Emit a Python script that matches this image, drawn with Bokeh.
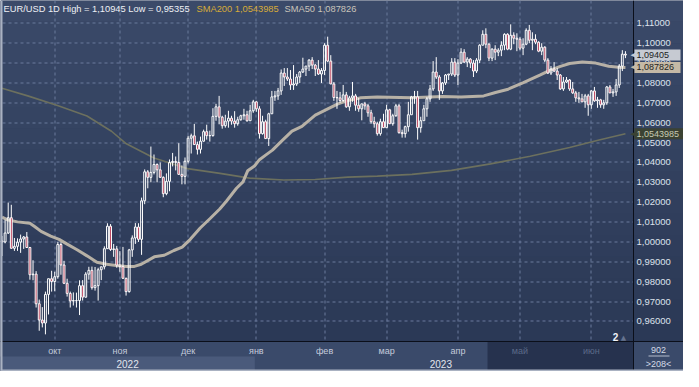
import math
import pandas as pd
from bokeh.plotting import figure
from bokeh.models import (ColumnDataSource, LinearAxis, FixedTicker, CustomJSTickFormatter,
                          Label, BoxAnnotation, Range1d, Grid)
from bokeh.embed import file_html
from bokeh.resources import INLINE

# ---------------- data ----------------
dates = pd.bdate_range("2022-09-08", "2023-06-16")

open_ = [
    1.0005, 1.0000, 1.0045, 1.0122, 0.9968, 0.9978, 0.9999, 1.0015, 1.0025, 0.9972, 0.9835, 0.9838, 0.9689, 0.9607, 0.9592, 0.9736, 0.9815,
    0.9801, 0.9825, 0.9987, 0.9884, 0.9792, 0.9741, 0.9703, 0.9705, 0.9705, 0.9780, 0.9722, 0.9838, 0.9857, 0.9770, 0.9780, 0.9860, 0.9875, 0.9966, 1.0079, 0.9962, 0.9965,
    0.9883, 0.9876, 0.9817, 0.9750, 0.9960, 1.0020, 1.0075, 1.0013, 1.0207, 1.0353, 1.0325, 1.0350, 1.0390, 1.0363, 1.0325, 1.0243, 1.0305, 1.0400, 1.0405, 1.0400, 1.0340, 1.0330,
    1.0406, 1.0522, 1.0534, 1.0490, 1.0466, 1.0507, 1.0555, 1.0535, 1.0535, 1.0632, 1.0680, 1.0628, 1.0585, 1.0608, 1.0623, 1.0608, 1.0595, 1.0615, 1.0635, 1.0640, 1.0610, 1.0660,
    1.0705, 1.0670, 1.0545, 1.0605, 1.0520, 1.0645, 1.0730, 1.0735, 1.0760, 1.0850, 1.0830, 1.0820, 1.0790, 1.0795, 1.0830, 1.0855, 1.0870, 1.0885, 1.0915, 1.0890, 1.0870, 1.0845,
    1.0863, 1.0990, 1.0910, 1.0795, 1.0727, 1.0725, 1.0712, 1.0740, 1.0680, 1.0725, 1.0735, 1.0688, 1.0670, 1.0695, 1.0685, 1.0650, 1.0605, 1.0595, 1.0545, 1.0605,
    1.0575, 1.0665, 1.0595, 1.0635, 1.0685, 1.0550, 1.0545, 1.0580, 1.0640, 1.0730, 1.0730, 1.0575, 1.0610, 1.0670, 1.0720, 1.0770, 1.0855, 1.0830, 1.0760, 1.0800, 1.0840, 1.0845, 1.0905,
    1.0840, 1.0900, 1.0955, 1.0905, 1.0920, 1.0900, 1.0860, 1.0915, 1.0990, 1.1045, 1.0995, 1.0925, 1.0970, 1.0955, 1.0965, 1.0990, 1.1045, 1.0970, 1.1040, 1.1025,
    1.1020, 1.0975, 1.0995, 1.1065, 1.1015, 1.1020, 1.1005, 1.0960, 1.0980, 1.0915, 1.0850, 1.0870, 1.0860, 1.0840, 1.0770, 1.0805, 1.0815, 1.0770, 1.0750, 1.0725, 1.0720, 1.0705, 1.0735,
    1.0690, 1.0760, 1.0710, 1.0715, 1.0690, 1.0700, 1.0780, 1.0750, 1.0755, 1.0790, 1.0885, 1.0945,
]
high = [
    1.0030, 1.0112, 1.0198, 1.0187, 1.0020, 1.0018, 1.0037, 1.0030, 1.0050, 0.9975, 0.9908, 0.9853, 0.9710, 0.9672, 0.9750, 0.9815, 0.9855,
    0.9850, 0.9999, 0.9998, 0.9905, 0.9815, 0.9750, 0.9746, 0.9745, 0.9807, 0.9808, 0.9848, 0.9875, 0.9876, 0.9874, 0.9870, 0.9875, 0.9978, 1.0094, 1.0090, 0.9990, 0.9980,
    0.9954, 0.9975, 0.9820, 0.9965, 1.0033, 1.0095, 1.0094, 1.0223, 1.0365, 1.0362, 1.0480, 1.0440, 1.0395, 1.0400, 1.0330, 1.0345, 1.0415, 1.0448, 1.0430, 1.0497, 1.0385, 1.0425,
    1.0534, 1.0545, 1.0594, 1.0505, 1.0530, 1.0565, 1.0590, 1.0560, 1.0673, 1.0695, 1.0735, 1.0635, 1.0640, 1.0660, 1.0635, 1.0658, 1.0630, 1.0640, 1.0670, 1.0660, 1.0690, 1.0715,
    1.0710, 1.0683, 1.0635, 1.0615, 1.0650, 1.0760, 1.0760, 1.0775, 1.0868, 1.0875, 1.0875, 1.0865, 1.0890, 1.0845, 1.0860, 1.0927, 1.0885, 1.0920, 1.0930, 1.0895, 1.0915, 1.0875,
    1.1000, 1.1033, 1.0940, 1.0805, 1.0760, 1.0755, 1.0790, 1.0755, 1.0735, 1.0805, 1.0745, 1.0725, 1.0695, 1.0705, 1.0695, 1.0665, 1.0630, 1.0605, 1.0620, 1.0645,
    1.0690, 1.0670, 1.0645, 1.0695, 1.0695, 1.0565, 1.0585, 1.0705, 1.0735, 1.0760, 1.0760, 1.0630, 1.0690, 1.0730, 1.0790, 1.0910, 1.0930, 1.0840, 1.0805, 1.0845, 1.0845, 1.0925, 1.0925,
    1.0920, 1.0975, 1.0970, 1.0930, 1.0925, 1.0915, 1.0925, 1.0995, 1.1065, 1.1075, 1.1000, 1.0975, 1.0990, 1.0975, 1.1010, 1.1050, 1.1050, 1.1095, 1.1055, 1.1050,
    1.1030, 1.1025, 1.1075, 1.1092, 1.1055, 1.1045, 1.1010, 1.1000, 1.0985, 1.0925, 1.0885, 1.0905, 1.0875, 1.0845, 1.0830, 1.0830, 1.0820, 1.0805, 1.0760, 1.0755, 1.0745, 1.0745, 1.0745,
    1.0765, 1.0780, 1.0730, 1.0720, 1.0715, 1.0785, 1.0790, 1.0770, 1.0820, 1.0895, 1.0965, 1.0960,
]
low = [
    0.9929, 0.9993, 1.0040, 0.9966, 0.9955, 0.9955, 0.9945, 0.9965, 0.9970, 0.9810, 0.9807, 0.9670, 0.9553, 0.9570, 0.9535, 0.9635, 0.9750,
    0.9752, 0.9815, 0.9835, 0.9788, 0.9725, 0.9670, 0.9680, 0.9670, 0.9632, 0.9705, 0.9720, 0.9810, 0.9760, 0.9755, 0.9705, 0.9808, 0.9862, 0.9965, 0.9955, 0.9925, 0.9870,
    0.9850, 0.9815, 0.9730, 0.9745, 0.9925, 0.9990, 1.0000, 0.9935, 1.0190, 1.0270, 1.0300, 1.0340, 1.0300, 1.0325, 1.0225, 1.0235, 1.0255, 1.0380, 1.0360, 1.0340, 1.0290, 1.0290,
    1.0395, 1.0445, 1.0490, 1.0440, 1.0445, 1.0505, 1.0515, 1.0505, 1.0530, 1.0610, 1.0592, 1.0570, 1.0575, 1.0575, 1.0590, 1.0575, 1.0585, 1.0610, 1.0615, 1.0605, 1.0610, 1.0650,
    1.0655, 1.0520, 1.0540, 1.0520, 1.0483, 1.0645, 1.0710, 1.0715, 1.0740, 1.0785, 1.0810, 1.0765, 1.0765, 1.0785, 1.0800, 1.0850, 1.0835, 1.0860, 1.0870, 1.0835, 1.0840, 1.0800,
    1.0840, 1.0905, 1.0795, 1.0710, 1.0670, 1.0700, 1.0705, 1.0675, 1.0660, 1.0705, 1.0660, 1.0655, 1.0612, 1.0665, 1.0630, 1.0595, 1.0575, 1.0535, 1.0535, 1.0580,
    1.0575, 1.0595, 1.0585, 1.0630, 1.0545, 1.0525, 1.0525, 1.0555, 1.0640, 1.0695, 1.0515, 1.0550, 1.0610, 1.0630, 1.0705, 1.0760, 1.0820, 1.0715, 1.0745, 1.0790, 1.0815, 1.0835, 1.0830,
    1.0790, 1.0895, 1.0900, 1.0880, 1.0875, 1.0830, 1.0850, 1.0900, 1.0990, 1.0975, 1.0910, 1.0910, 1.0915, 1.0935, 1.0935, 1.0965, 1.0965, 1.0965, 1.0995, 1.0960,
    1.0965, 1.0940, 1.0990, 1.1000, 1.0965, 1.0995, 1.0955, 1.0940, 1.0905, 1.0845, 1.0840, 1.0855, 1.0815, 1.0765, 1.0760, 1.0800, 1.0760, 1.0745, 1.0705, 1.0700, 1.0705, 1.0675, 1.0635,
    1.0670, 1.0705, 1.0675, 1.0675, 1.0670, 1.0690, 1.0750, 1.0730, 1.0735, 1.0775, 1.0860, 1.0925,
]
close = [
    1.0000, 1.0045, 1.0122, 0.9968, 0.9978, 0.9999, 1.0015, 1.0025, 0.9972, 0.9835, 0.9838, 0.9689, 0.9607, 0.9592, 0.9736, 0.9815, 0.9801,
    0.9825, 0.9987, 0.9884, 0.9792, 0.9741, 0.9703, 0.9705, 0.9705, 0.9780, 0.9722, 0.9838, 0.9857, 0.9770, 0.9780, 0.9860, 0.9875, 0.9966, 1.0079, 0.9962, 0.9965, 0.9883,
    0.9876, 0.9817, 0.9750, 0.9960, 1.0020, 1.0075, 1.0013, 1.0207, 1.0353, 1.0325, 1.0350, 1.0390, 1.0363, 1.0325, 1.0243, 1.0305, 1.0400, 1.0405, 1.0400, 1.0340, 1.0330, 1.0406,
    1.0522, 1.0534, 1.0490, 1.0466, 1.0507, 1.0555, 1.0535, 1.0535, 1.0632, 1.0680, 1.0628, 1.0585, 1.0608, 1.0623, 1.0608, 1.0595, 1.0615, 1.0635, 1.0640, 1.0610, 1.0660, 1.0705,
    1.0670, 1.0545, 1.0605, 1.0520, 1.0645, 1.0730, 1.0735, 1.0760, 1.0850, 1.0830, 1.0820, 1.0790, 1.0795, 1.0830, 1.0855, 1.0870, 1.0885, 1.0915, 1.0890, 1.0870, 1.0845, 1.0863,
    1.0990, 1.0910, 1.0795, 1.0727, 1.0725, 1.0712, 1.0740, 1.0680, 1.0725, 1.0735, 1.0688, 1.0670, 1.0695, 1.0685, 1.0650, 1.0605, 1.0595, 1.0545, 1.0605, 1.0575,
    1.0665, 1.0595, 1.0635, 1.0685, 1.0550, 1.0545, 1.0580, 1.0640, 1.0730, 1.0730, 1.0575, 1.0610, 1.0670, 1.0720, 1.0770, 1.0855, 1.0830, 1.0760, 1.0800, 1.0840, 1.0845, 1.0905, 1.0840,
    1.0900, 1.0955, 1.0905, 1.0920, 1.0900, 1.0860, 1.0915, 1.0990, 1.1045, 1.0995, 1.0925, 1.0970, 1.0955, 1.0965, 1.0990, 1.1045, 1.0970, 1.1040, 1.1025, 1.1020,
    1.0975, 1.0995, 1.1065, 1.1015, 1.1020, 1.1005, 1.0960, 1.0980, 1.0915, 1.0850, 1.0870, 1.0860, 1.0840, 1.0770, 1.0805, 1.0815, 1.0770, 1.0750, 1.0725, 1.0720, 1.0705, 1.0735, 1.0690,
    1.0760, 1.0710, 1.0715, 1.0690, 1.0700, 1.0780, 1.0750, 1.0755, 1.0790, 1.0885, 1.0945, 1.09405,
]

# moving averages (bar index, value)
sma50_x = [0, 2, 5, 9, 10.5, 12.6, 15.7, 18.4, 21, 24.2, 27.4, 30.6, 33.7, 36.9, 40.1, 42.7, 44.9, 49.1, 52.3,
           55.4, 58.1, 60.7, 63.9, 67.1, 70.2, 72.4, 75.6, 77.7, 79.2, 81.4, 83, 85.1, 87.2, 90.3, 93.5, 96.7,
           101, 105.2, 108.3, 111.5, 115.7, 121, 132, 142, 148, 155.3, 159.1, 162.9, 168.1, 173.4, 176.6,
           179.8, 183, 187.1, 191.4, 195.6, 198.8, 201]
sma50_y = [1.0125, 1.0110, 1.0101, 1.0094, 1.0078, 1.0053, 1.0029, 1.0013, 0.9989, 0.9961, 0.9930, 0.9898,
           0.9888, 0.9882, 0.9877, 0.9877, 0.9888, 0.9925, 0.9933, 0.9957, 0.9974, 1.0013, 1.0070, 1.0118,
           1.0166, 1.0206, 1.0270, 1.0302, 1.0358, 1.0382, 1.0414, 1.0438, 1.0462, 1.0510, 1.0558, 1.0582,
           1.0638, 1.0671, 1.0695, 1.0711, 1.0726, 1.0730, 1.0726, 1.0732, 1.0730, 1.0735, 1.0752, 1.0767,
           1.0802, 1.0839, 1.0863, 1.0882, 1.0898, 1.0906, 1.0900, 1.0884, 1.0879, 1.087826]
sma200_x = [0, 8.3, 17.9, 27.4, 35.3, 40.1, 49, 59.8, 70.3, 79.8, 90.9, 101, 111.5, 121, 132.2, 144.9,
            157.5, 170.3, 183, 192.5, 201]
sma200_y = [1.0773, 1.0735, 1.0687, 1.0634, 1.0557, 1.0494, 1.0422, 1.0369, 1.0345, 1.0321, 1.0312,
            1.0314, 1.0326, 1.0331, 1.0340, 1.0360, 1.0393, 1.0431, 1.0475, 1.0513, 1.0543985]

price_ticks = [0.96, 0.97, 0.98, 0.99, 1.00, 1.01, 1.02, 1.03, 1.04, 1.05, 1.06, 1.07, 1.08, 1.09, 1.10, 1.11]
month_names = {10: "окт", 11: "ноя", 12: "дек", 1: "янв", 2: "фев", 3: "мар", 4: "апр", 5: "май", 6: "июн"}
dim_months = [5, 6]

# ---------------- derived ----------------
n = len(dates)
idx = list(range(n))
up = [c >= o for o, c in zip(open_, close)]
btop = [max(o, c) for o, c in zip(open_, close)]
bbot = [min(o, c) for o, c in zip(open_, close)]

month_starts = [i for i in range(1, n) if dates[i].month != dates[i - 1].month]
years = sorted(set(d.year for d in dates))
year_centers = {}
year_spans = {}
for y in years:
    ii = [i for i in idx if dates[i].year == y]
    year_centers[(ii[0] + ii[-1]) / 2] = str(y)
    year_spans[y] = (ii[0] - 0.5, ii[-1] + 0.5)

# ---------------- layout (canvas pixels) ----------------
W, H = 683, 371
CH_L, CH_R, CH_T, CH_B = 2, 633, 0, 341        # price pane inside the canvas
IDX_L, IDX_R = 0.16, 203.6                     # bar-index span of the price pane
V_T, V_B = 1.1215, 0.9499                      # price span of the price pane
kx = (CH_R - CH_L) / (IDX_R - IDX_L)
ky = (CH_B - CH_T) / (V_T - V_B)


def px2x(px):
    return IDX_L + (px - CH_L) / kx


def x2px(x):
    return CH_L + (x - IDX_L) * kx


def py2v(py):
    return V_T - (py - CH_T) / ky


def v2py(v):
    return CH_T + (V_T - v) * ky


BG_TOP, BG_BOT = (0x3b, 0x4a, 0x69), (0x2b, 0x39, 0x56)
GRID = "#6b7b9c"
RED = "#b5304c"
AXIS = "#0b0f1a"

p = figure(width=W, height=H, output_backend="svg", toolbar_location=None,
           x_range=Range1d(px2x(0), px2x(W)), y_range=Range1d(py2v(H), py2v(0)),
           x_axis_location=None, y_axis_location=None,
           min_border_left=0, min_border_right=0, min_border_top=0, min_border_bottom=0)
p.center = [r for r in p.center if not isinstance(r, Grid)]
p.background_fill_color = "#33415f"
p.border_fill_color = "#33415f"
p.outline_line_color = None

# vertical gradient of the background (glyph bands on the lowest level)
NB = 16
g_bot, g_top, g_col = [], [], []
for k in range(NB):
    t = k / (NB - 1)
    g_col.append("#%02x%02x%02x" % tuple(int(BG_BOT[j] + (BG_TOP[j] - BG_BOT[j]) * t) for j in range(3)))
    g_bot.append(py2v(CH_B - (CH_B - CH_T) * k / NB))
    g_top.append(py2v(CH_B - (CH_B - CH_T) * (k + 1) / NB))
p.quad(left=px2x(0), right=px2x(W), bottom=g_bot, top=g_top, fill_color=g_col, line_color=None,
       level="image")

# time-scale strip backgrounds
p.add_layout(BoxAnnotation(top=V_B, fill_color="#3a4a6a", fill_alpha=1, line_color=None, level="underlay"))
p.add_layout(BoxAnnotation(left=year_spans[years[0]][0], right=year_spans[years[0]][1],
                           top=py2v(CH_B + 15), bottom=py2v(CH_B + 29),
                           fill_color="#4a5a7b", fill_alpha=1, line_color=None, level="underlay"))
p.add_layout(BoxAnnotation(left=px2x(487), right=IDX_R, top=V_B,
                           fill_color="#26324e", fill_alpha=1, line_color=None, level="underlay"))

# dashed grid (3px on / 3px off) at month starts and price ticks, snapped to pixel centres
DASH, STEP = 3, 6
gx0, gy0, gx1, gy1 = [], [], [], []
for m in month_starts:
    xs = px2x(math.floor(x2px(m)) + 0.5)
    for b in range(CH_T, CH_B, STEP):
        gx0.append(xs); gx1.append(xs)
        gy0.append(py2v(b)); gy1.append(py2v(min(b + DASH, CH_B)))
for tv in price_ticks:
    ys = py2v(math.floor(v2py(tv)) + 0.5)
    for a in range(CH_L, CH_R, STEP):
        gx0.append(px2x(a)); gx1.append(px2x(min(a + DASH, CH_R)))
        gy0.append(ys); gy1.append(ys)
p.segment(x0=gx0, y0=gy0, x1=gx1, y1=gy1, line_color=GRID, line_width=1)

# moving averages
p.line(sma200_x, sma200_y, line_color="#6c705e", line_width=1.6)
p.line(sma50_x, sma50_y, line_color="#bfb7aa", line_width=3, line_alpha=0.95)

# candles
wick_up = ColumnDataSource(dict(x=idx, y0=btop, y1=high))
wick_dn = ColumnDataSource(dict(x=idx, y0=low, y1=bbot))
p.segment("x", "y0", "x", "y1", source=wick_up, line_color="white", line_width=1)
p.segment("x", "y0", "x", "y1", source=wick_dn, line_color="white", line_width=1)

ups = ColumnDataSource(dict(x=[i for i in idx if up[i]], top=[btop[i] for i in idx if up[i]],
                            bottom=[bbot[i] for i in idx if up[i]]))
dns = ColumnDataSource(dict(x=[i for i in idx if not up[i]], top=[btop[i] for i in idx if not up[i]],
                            bottom=[bbot[i] for i in idx if not up[i]]))
p.vbar(x="x", top="top", bottom="bottom", width=0.6, source=ups, fill_alpha=0,
       line_color="white", line_width=1)
p.vbar(x="x", top="top", bottom="bottom", width=0.6, source=dns, fill_color=RED,
       line_color="white", line_width=1)

# axes (drawn at fixed positions on the pane border)
yax = LinearAxis(ticker=FixedTicker(ticks=price_ticks), fixed_location=IDX_R,
                 formatter=CustomJSTickFormatter(code="return tick.toFixed(5).replace('.', ',');"),
                 axis_line_color=AXIS, axis_line_width=1,
                 major_tick_line_color=None, minor_tick_line_color=None, major_tick_in=0, major_tick_out=0,
                 major_label_standoff=3, major_label_text_color="#dde2ec",
                 major_label_text_font="Liberation Sans", major_label_text_font_size="9.5px")
p.add_layout(yax, "right")

overrides = {m: ("" if dates[m].month in dim_months else month_names[dates[m].month]) for m in month_starts}
xax = LinearAxis(ticker=FixedTicker(ticks=month_starts), major_label_overrides=overrides, fixed_location=V_B,
                 axis_line_color=AXIS, axis_line_width=1,
                 major_tick_line_color=None, minor_tick_line_color=None, major_tick_in=0, major_tick_out=0,
                 major_label_standoff=4, major_label_text_color="#c4cbdb",
                 major_label_text_font="Liberation Sans", major_label_text_font_size="9px")
p.add_layout(xax, "below")
yrax = LinearAxis(ticker=FixedTicker(ticks=list(year_centers.keys())), major_label_overrides=year_centers,
                  fixed_location=V_B, axis_line_color=None, major_tick_line_color=None,
                  minor_tick_line_color=None, major_tick_in=0, major_tick_out=0, major_label_standoff=18,
                  major_label_text_color="#e2e6ee", major_label_text_font="Liberation Sans",
                  major_label_text_font_size="10px")
p.add_layout(yrax, "below")

for m in month_starts:
    if dates[m].month in dim_months:
        p.add_layout(Label(x=m, y=py2v(CH_B + 9), text=month_names[dates[m].month],
                           text_align="center", text_baseline="middle", text_color="#5b6a88",
                           text_font="Liberation Sans", text_font_size="9px"))

# header texts
hdr_y = py2v(8)
hdr_font = "9.3px"
p.add_layout(Label(x=px2x(3), y=hdr_y, text="EUR/USD 1D High = 1,10945 Low = 0,95355",
                   text_baseline="middle", text_color="#eef0f5", text_font="Liberation Sans",
                   text_font_size=hdr_font))
p.add_layout(Label(x=px2x(196), y=hdr_y, text="SMA200 1,0543985", text_baseline="middle",
                   text_color="#d6aa38", text_font="Liberation Sans", text_font_size=hdr_font))
p.add_layout(Label(x=px2x(284), y=hdr_y, text="SMA50 1,087826", text_baseline="middle",
                   text_color="#c9c4ba", text_font="Liberation Sans", text_font_size=hdr_font))

# last-value markers on the price scale
for val, txt, bgc, fgc, bw in [(close[-1], "1,09405", "#c6cad2", "#1e1e1e", 46),
                               (sma50_y[-1], "1,087826", "#c5b9a6", "#1e1e1e", 46),
                               (sma200_y[-1], "1,0543985", "#3b4233", "#c6cab2", 49)]:
    cy = v2py(val)
    p.add_layout(BoxAnnotation(left=px2x(CH_R + 1), right=px2x(CH_R + 1 + bw),
                               top=py2v(cy - 5.5), bottom=py2v(cy + 5.5),
                               fill_color=bgc, fill_alpha=1, line_color=None, level="annotation"))
    p.add_layout(Label(x=px2x(CH_R - 3), y=val, text="◀", text_baseline="middle",
                       text_color=bgc, text_font="DejaVu Sans", text_font_size="7px"))
    p.add_layout(Label(x=px2x(CH_R + 3), y=val, text=txt, text_baseline="middle",
                       text_color=fgc, text_font="Liberation Sans", text_font_size="9px"))

# bottom-right counters and marker
cx = px2x((CH_R + W) / 2)
p.add_layout(Label(x=cx, y=py2v(CH_B + 8), text="902", text_align="center", text_baseline="middle",
                   text_color="#d4dae6", text_font="Liberation Sans", text_font_size="9px"))
p.add_layout(BoxAnnotation(left=px2x(CH_R + 15), right=px2x(CH_R + 36), bottom=py2v(CH_B + 15),
                           top=py2v(CH_B + 14), fill_color="#d4dae6", fill_alpha=0.8, line_color=None,
                           level="overlay"))
p.add_layout(Label(x=cx, y=py2v(CH_B + 22), text=">208<", text_align="center", text_baseline="middle",
                   text_color="#d4dae6", text_font="Liberation Sans", text_font_size="9px"))
p.add_layout(Label(x=px2x(615), y=py2v(336), text="2", text_align="center",
                   text_baseline="middle", text_color="#f2f4f8", text_font="Liberation Sans",
                   text_font_size="10px", text_font_style="bold"))
p.add_layout(Label(x=px2x(623), y=py2v(337), text="▲", text_align="center",
                   text_baseline="middle", text_color="#65738f", text_font="DejaVu Sans",
                   text_font_size="7px"))

# window edges
p.add_layout(BoxAnnotation(right=px2x(2), fill_color="#aab2c2", fill_alpha=1, line_color=None, level="overlay"))
p.add_layout(BoxAnnotation(top=py2v(H - 2), fill_color="#aab2c2", fill_alpha=1, line_color=None, level="overlay"))

open("out.html", "w").write(file_html(p, INLINE))
